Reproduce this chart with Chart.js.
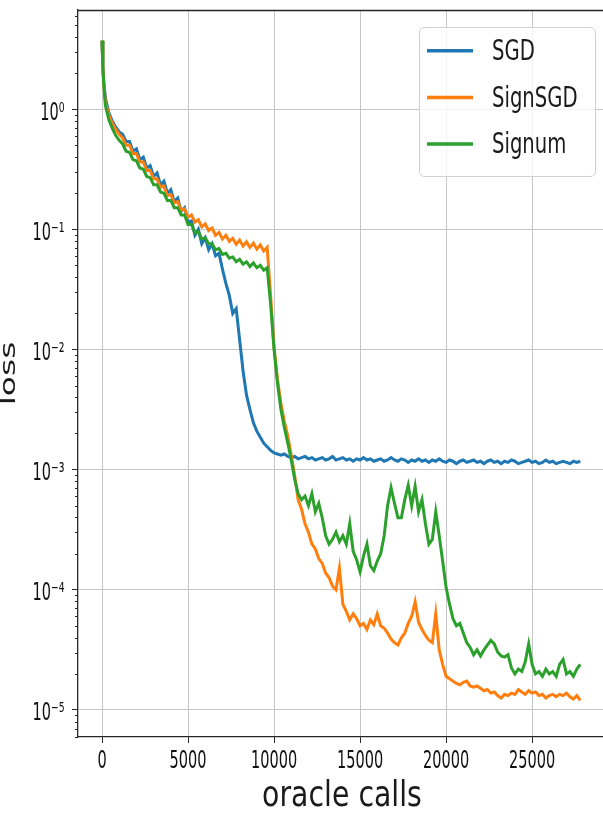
<!DOCTYPE html>
<html><head><meta charset="utf-8">
<script src="https://cdn.jsdelivr.net/npm/chart.js@4.4.1/dist/chart.umd.min.js"></script>
<style>
html,body{margin:0;padding:0;background:#fff;overflow:hidden;}
#wrap{position:relative;width:606px;height:817px;}
</style></head><body>
<div id="wrap"><canvas id="c"></canvas></div>
<script>
// ---------------- data ----------------
const oracleCalls = [
  0,50,100,200,400,600,800,1000,1200,1400,1600,1800,
  2000,2200,2400,2600,2800,3000,3200,3400,3600,3800,
  4000,4200,4400,4600,4800,5000,5200,5400,5600,5800,
  6000,6200,6400,6600,6800,7000,7200,7400,7600,7800,
  8000,8200,8400,8600,8800,9000,9200,9400,9600,9800,
  10000,10200,10400,10600,10800,11000,11200,11400,11600,11800,
  12000,12200,12400,12600,12800,13000,13200,13400,13600,13800,
  14000,14200,14400,14600,14800,15000,15200,15400,15600,15800,
  16000,16200,16400,16600,16800,17000,17200,17400,17600,17800,
  18000,18200,18400,18600,18800,19000,19200,19400,19600,19800,
  20000,20200,20400,20600,20800,21000,21200,21400,21600,21800,
  22000,22200,22400,22600,22800,23000,23200,23400,23600,23800,
  24000,24200,24400,24600,24800,25000,25200,25400,25600,25800,
  26000,26200,26400,26600,26800,27000,27200,27400,27600,27800
];
// log10(loss)
const sgdLog10Loss = [
  0.57,0.35,0.23,0.09,-0.03,-0.10,-0.15,-0.19,-0.21,-0.27,-0.27,-0.35,
  -0.33,-0.42,-0.40,-0.49,-0.47,-0.56,-0.53,-0.63,-0.60,-0.70,
  -0.67,-0.77,-0.74,-0.85,-0.82,-0.94,-0.93,-1.05,-1.00,-1.12,
  -1.07,-1.17,-1.12,-1.22,-1.20,-1.33,-1.45,-1.55,-1.70,-1.66,
  -1.92,-2.18,-2.38,-2.50,-2.61,-2.68,-2.73,-2.78,-2.81,-2.84,
  -2.86,-2.87,-2.88,-2.87,-2.89,-2.90,-2.89,-2.91,-2.90,-2.89,
  -2.91,-2.90,-2.92,-2.91,-2.90,-2.92,-2.91,-2.89,-2.92,-2.91,
  -2.90,-2.92,-2.91,-2.93,-2.91,-2.92,-2.90,-2.92,-2.91,-2.93,
  -2.92,-2.91,-2.93,-2.92,-2.90,-2.92,-2.93,-2.91,-2.92,-2.94,
  -2.92,-2.93,-2.91,-2.93,-2.92,-2.94,-2.92,-2.93,-2.91,-2.93,
  -2.94,-2.92,-2.93,-2.95,-2.93,-2.92,-2.94,-2.93,-2.92,-2.94,
  -2.93,-2.95,-2.93,-2.92,-2.94,-2.93,-2.95,-2.93,-2.94,-2.92,
  -2.93,-2.95,-2.94,-2.93,-2.92,-2.94,-2.93,-2.95,-2.94,-2.92,
  -2.94,-2.93,-2.95,-2.94,-2.93,-2.94,-2.95,-2.93,-2.94,-2.93
];
const signSgdLog10Loss = [
  0.57,0.35,0.22,0.06,-0.05,-0.12,-0.17,-0.21,-0.24,-0.30,-0.30,-0.37,
  -0.37,-0.44,-0.44,-0.51,-0.51,-0.58,-0.58,-0.65,-0.64,-0.72,
  -0.71,-0.78,-0.77,-0.84,-0.83,-0.90,-0.88,-0.94,-0.92,-0.98,
  -0.955,-1.01,-0.99,-1.05,-1.025,-1.08,-1.05,-1.10,-1.075,-1.125,
  -1.09,-1.14,-1.105,-1.15,-1.115,-1.165,-1.13,-1.18,-1.15,-1.55,
  -1.98,-2.25,-2.45,-2.60,-2.72,-2.88,-3.05,-3.25,-3.33,-3.45,
  -3.52,-3.62,-3.66,-3.74,-3.78,-3.86,-3.90,-3.97,-4.00,-3.82,
  -4.12,-4.18,-4.25,-4.20,-4.24,-4.30,-4.28,-4.33,-4.25,-4.29,
  -4.20,-4.30,-4.32,-4.36,-4.41,-4.44,-4.46,-4.40,-4.36,-4.28,
  -4.22,-4.10,-4.27,-4.33,-4.38,-4.42,-4.44,-4.20,-4.50,-4.62,
  -4.72,-4.74,-4.76,-4.78,-4.79,-4.77,-4.76,-4.80,-4.81,-4.80,
  -4.82,-4.84,-4.83,-4.86,-4.85,-4.88,-4.90,-4.87,-4.88,-4.86,
  -4.87,-4.83,-4.85,-4.87,-4.84,-4.86,-4.85,-4.88,-4.87,-4.90,
  -4.88,-4.87,-4.89,-4.87,-4.88,-4.86,-4.89,-4.91,-4.88,-4.92
];
const signumLog10Loss = [
  0.57,0.35,0.21,0.03,-0.09,-0.16,-0.22,-0.26,-0.29,-0.35,-0.36,-0.42,
  -0.43,-0.49,-0.50,-0.56,-0.57,-0.63,-0.63,-0.69,-0.70,-0.76,
  -0.76,-0.82,-0.82,-0.88,-0.88,-0.96,-0.96,-1.03,-1.02,-1.08,
  -1.07,-1.12,-1.12,-1.17,-1.16,-1.21,-1.20,-1.24,-1.23,-1.27,
  -1.25,-1.29,-1.27,-1.31,-1.28,-1.32,-1.30,-1.34,-1.32,-1.62,
  -2.00,-2.28,-2.50,-2.65,-2.78,-2.92,-3.08,-3.20,-3.25,-3.22,
  -3.30,-3.20,-3.35,-3.28,-3.40,-3.55,-3.62,-3.58,-3.52,-3.60,
  -3.55,-3.62,-3.45,-3.68,-3.75,-3.85,-3.72,-3.62,-3.80,-3.84,
  -3.76,-3.70,-3.55,-3.30,-3.15,-3.28,-3.40,-3.40,-3.25,-3.13,
  -3.30,-3.14,-3.35,-3.25,-3.45,-3.62,-3.58,-3.35,-3.55,-3.76,
  -3.98,-4.12,-4.24,-4.30,-4.28,-4.36,-4.44,-4.48,-4.54,-4.50,
  -4.55,-4.50,-4.46,-4.42,-4.45,-4.52,-4.55,-4.56,-4.54,-4.65,
  -4.70,-4.66,-4.68,-4.60,-4.45,-4.62,-4.70,-4.68,-4.72,-4.66,
  -4.70,-4.68,-4.72,-4.62,-4.58,-4.70,-4.68,-4.72,-4.66,-4.62
];
const seriesNames = ['SGD', 'SignSGD', 'Signum'];
const seriesColors = ['#1f77b4', '#ff7f0e', '#2ca02c'];
const xTickValues = [0, 5000, 10000, 15000, 20000, 25000];
const xTickLabels = ['0', '5000', '10000', '15000', '20000', '25000'];
const yMajorTicks = [1e-5, 1e-4, 1e-3, 1e-2, 1e-1, 1];
const yTickLabels = ['10\u207B\u2075', '10\u207B\u2074', '10\u207B\u00B3', '10\u207B\u00B2', '10\u207B\u00B9', '10\u2070'];
const xAxisTitle = 'oracle calls';
const yAxisTitle = 'loss';

// ---------------- text rendering (narrow glyphs like the reference) ----------------
const FONT = "'DejaVu Sans', 'Noto Sans', sans-serif";
const TEXT_SCALE = {25: 0.58, 28: 0.70, 35: 0.81, 22: 1.5};
const canvas = document.getElementById('c');
const ctx2d = canvas.getContext('2d');
const nativeFill = ctx2d.fillText;
const nativeMeasure = ctx2d.measureText;
function textScale(font) {
  const m = /(\d+(?:\.\d+)?)px/.exec(font || '');
  return (m && TEXT_SCALE[m[1]]) || 1;
}
ctx2d.fillText = function (t, x, y, mw) {
  const s = textScale(this.font);
  if (s === 1) return mw === undefined ? nativeFill.call(this, t, x, y) : nativeFill.call(this, t, x, y, mw);
  this.save(); this.translate(x, y); this.scale(s, 1); nativeFill.call(this, t, 0, 0); this.restore();
};
ctx2d.measureText = function (t) {
  const m = nativeMeasure.call(this, t);
  const s = textScale(this.font);
  if (s === 1) return m;
  return {width: m.width * s, actualBoundingBoxAscent: m.actualBoundingBoxAscent,
    actualBoundingBoxDescent: m.actualBoundingBoxDescent,
    actualBoundingBoxLeft: m.actualBoundingBoxLeft * s, actualBoundingBoxRight: m.actualBoundingBoxRight * s};
};

// ---------------- build ----------------
const seriesLogs = [sgdLog10Loss, signSgdLog10Loss, signumLog10Loss];
const datasets = seriesNames.map((name, k) => ({
  label: name,
  data: oracleCalls.map((x, i) => ({x: x, y: Math.pow(10, seriesLogs[k][i])})),
  borderColor: seriesColors[k],
  backgroundColor: seriesColors[k],
  borderWidth: 3,
  pointRadius: 0,
  tension: 0,
  fill: false,
  order: 2 - k
}));

const yMin = Math.pow(10, -5.225), yMax = Math.pow(10, 0.825);
const yTicksAll = [];
for (let d = -6; d <= 0; d++) {
  for (let m = 1; m <= 9; m++) {
    const v = m * Math.pow(10, d);
    if (v >= yMin && v <= yMax) yTicksAll.push({value: v, major: m === 1});
  }
}

const GRID = '#c6c6c6', SPINE = '#262626';

const framePlugin = {
  id: 'frame',
  afterDraw(chart) {
    const {ctx, chartArea: a, scales} = chart;
    ctx.save();
    // top spine
    ctx.strokeStyle = SPINE; ctx.lineWidth = 1.3;
    ctx.beginPath();
    ctx.moveTo(a.left, a.top + 0.5); ctx.lineTo(a.right, a.top + 0.5);
    ctx.stroke();
    // minor log ticks
    const ys = scales.y;
    ctx.lineWidth = 1;
    ctx.beginPath();
    ys.ticks.forEach(t => {
      if (t.major) return;
      const p = Math.round(ys.getPixelForValue(t.value)) + 0.5;
      ctx.moveTo(a.left - 3, p); ctx.lineTo(a.left, p);
    });
    ctx.stroke();
    // legend
    const w = 176, h = 149;
    const left = a.right - 11 - w, top = a.top + 17;
    ctx.beginPath();
    if (ctx.roundRect) ctx.roundRect(left + 0.5, top + 0.5, w, h, 5); else ctx.rect(left + 0.5, top + 0.5, w, h);
    ctx.fillStyle = 'rgba(255,255,255,0.8)';
    ctx.fill();
    ctx.strokeStyle = '#d0d0d0'; ctx.lineWidth = 1;
    ctx.stroke();
    ctx.font = "28px " + FONT;
    ctx.textBaseline = 'middle'; ctx.textAlign = 'left';
    seriesNames.forEach((name, k) => {
      const ly = top + 23.7 + k * 46.7;
      ctx.strokeStyle = seriesColors[k]; ctx.lineWidth = 3.5;
      ctx.beginPath(); ctx.moveTo(left + 8, ly); ctx.lineTo(left + 54, ly); ctx.stroke();
      ctx.fillStyle = '#1a1a1a';
      ctx.fillText(name, left + 73, ly + 2);
    });
    ctx.restore();
  }
};

new Chart(ctx2d, {
  type: 'line',
  data: {datasets},
  plugins: [framePlugin],
  options: {
    responsive: true,
    maintainAspectRatio: false,
    animation: false,
    layout: {padding: {top: 10, left: 0, right: 0, bottom: 0}},
    plugins: {legend: {display: false}, tooltip: {enabled: false}, title: {display: false}},
    scales: {
      x: {
        type: 'linear', min: -1395, max: 29295,
        afterBuildTicks: s => { s.ticks = xTickValues.map(v => ({value: v})); },
        afterFit: s => { s.height = 80; s.paddingLeft = 0; s.paddingRight = 0; },
        ticks: {
          autoSkip: false, maxRotation: 0, padding: 3.5, color: '#111',
          font: {family: FONT, size: 25},
          callback: v => { const i = xTickValues.indexOf(v); return i >= 0 ? xTickLabels[i] : ''; }
        },
        grid: {color: GRID, lineWidth: 1, tickLength: 6, tickColor: SPINE, tickWidth: 1},
        border: {display: true, color: SPINE, width: 1.3},
        title: {display: true, text: xAxisTitle, color: '#1a1a1a', font: {family: FONT, size: 35}, padding: {top: 0, bottom: -1}}
      },
      y: {
        type: 'logarithmic', min: yMin, max: yMax,
        afterBuildTicks: s => { s.ticks = yTicksAll.map(t => ({value: t.value, major: t.major})); },
        afterFit: s => { s.width = 78; s.paddingTop = 0; s.paddingBottom = 0; },
        ticks: {
          autoSkip: false, padding: 7.5, labelOffset: 4, color: '#111',
          font: {family: FONT, size: 25},
          callback: v => {
            const i = yMajorTicks.findIndex(m => Math.abs(Math.log10(m) - Math.log10(v)) < 1e-6);
            return i >= 0 ? yTickLabels[i] : '';
          }
        },
        grid: {
          color: c => (c.tick && c.tick.major) ? GRID : 'rgba(0,0,0,0)',
          tickColor: c => (c.tick && c.tick.major) ? SPINE : 'rgba(0,0,0,0)',
          lineWidth: 1, tickLength: 6, tickWidth: 1
        },
        border: {display: true, color: SPINE, width: 1.3},
        title: {display: true, text: yAxisTitle, color: '#1a1a1a', font: {family: FONT, size: 22}, padding: {top: -4, bottom: 0}}
      }
    }
  }
});
</script>
</body></html>
